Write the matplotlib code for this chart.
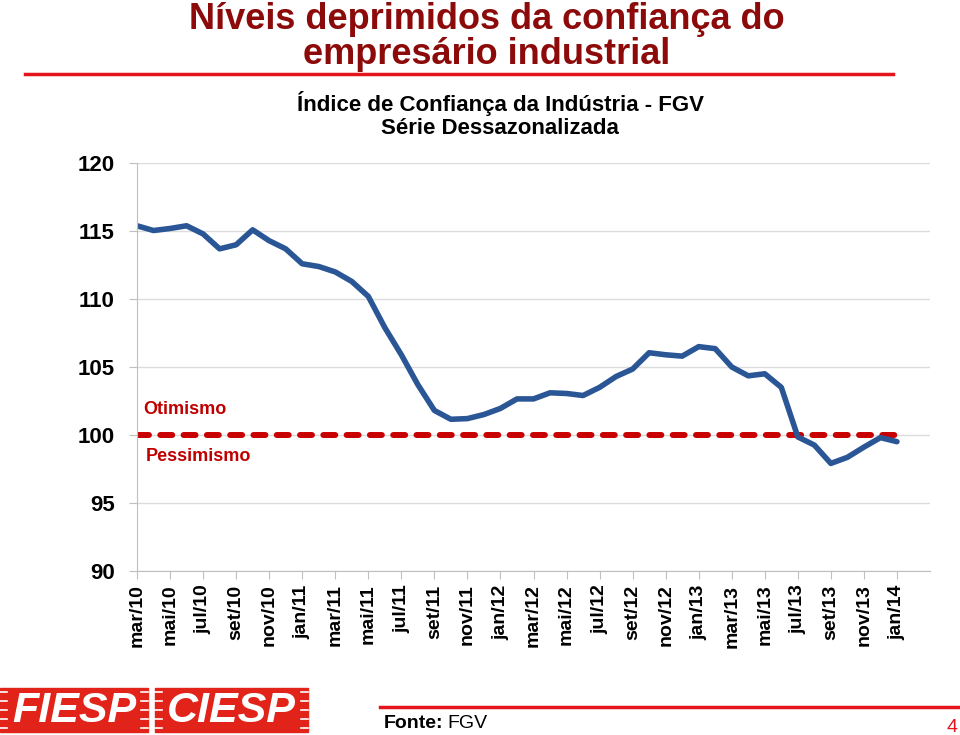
import numpy as np
import matplotlib
matplotlib.use('Agg')
import matplotlib.pyplot as plt
from matplotlib.patches import Rectangle
from matplotlib.lines import Line2D

# Índice de Confiança da Indústria (FGV), série dessazonalizada, mar/10 .. jan/14
ici = [115.4, 115.05, 115.2, 115.4, 114.8, 113.7, 114.0, 115.1, 114.3, 113.7,
       112.6, 112.4, 112.0, 111.3, 110.2, 107.9, 105.9, 103.7, 101.8, 101.15,
       101.2, 101.5, 101.95, 102.65, 102.65, 103.1, 103.05, 102.9, 103.5, 104.3,
       104.85, 106.05, 105.9, 105.8, 106.5, 106.35, 105.0, 104.35, 104.5, 103.5,
       99.85, 99.25, 97.9, 98.35, 99.1, 99.8, 99.5]
tick_labels = ['mar/10', 'mai/10', 'jul/10', 'set/10', 'nov/10', 'jan/11',
               'mar/11', 'mai/11', 'jul/11', 'set/11', 'nov/11', 'jan/12',
               'mar/12', 'mai/12', 'jul/12', 'set/12', 'nov/12', 'jan/13',
               'mar/13', 'mai/13', 'jul/13', 'set/13', 'nov/13', 'jan/14']
y_ticks = [90, 95, 100, 105, 110, 115, 120]
neutral = 100

title = 'Níveis deprimidos da confiança do\nempresário industrial'
subtitle = 'Índice de Confiança da Indústria - FGV\nSérie Dessazonalizada'

RED = '#E3141B'
DARKRED = '#8C0A0A'
BLUE = '#2A5696'

plt.rcParams['font.family'] = ['Liberation Sans', 'DejaVu Sans']

fig = plt.figure(figsize=(9.6, 7.35), dpi=100)
W, H = 960, 735

def fx(px):
    return px / W

def fy(py):
    return 1 - py / H

# slide header
fig.text(fx(487), fy(37), title, ha='center', va='center', color=DARKRED,
         fontsize=26, fontweight='bold', linespacing=0.98)
fig.add_artist(Line2D([fx(25), fx(893)], [fy(74), fy(74)], color=RED, lw=2.5))
fig.text(fx(500), fy(115), subtitle, ha='center', va='center', color='black',
         fontsize=16, fontweight='bold', linespacing=1.1)

# chart
x = np.arange(len(ici))
ax = fig.add_axes([fx(137), fy(570.7), fx(930 - 137), (570.7 - 163.3) / H])
ax.set_xlim(0, 48)
ax.set_ylim(y_ticks[0], y_ticks[-1])
ax.set_yticks(y_ticks)
ax.grid(axis='y', color='#DCDCDC', lw=1)
ax.set_axisbelow(True)
for s in ['top', 'right']:
    ax.spines[s].set_visible(False)
ax.spines['left'].set_color('#BFBFBF')
ax.spines['bottom'].set_color('#BFBFBF')

ax.plot([x[0], x[-1]], [neutral, neutral], color='#C80000', lw=4.3,
        dashes=(2.0, 1.9), dash_capstyle='round')
ax.plot(x, ici, color=BLUE, lw=4.0, solid_joinstyle='round',
        solid_capstyle='round')

ax.text(0.35, 101.9, 'Otimismo', color='#C00000', fontsize=13,
        fontweight='bold', va='center', ha='left')
ax.text(0.55, 98.4, 'Pessimismo', color='#C00000', fontsize=13,
        fontweight='bold', va='center', ha='left')

ax.set_xticks(x[::2])
ax.set_xticklabels(tick_labels, rotation=90, fontsize=14, fontweight='bold')
ax.tick_params(axis='x', length=6, color='#BFBFBF', pad=4)
ax.tick_params(axis='y', length=6, color='#BFBFBF', pad=10, labelsize=16)
for lab in ax.get_yticklabels():
    lab.set_fontweight('bold')

# footer: logos, source and page number
for x0, x1, name in [(0, 148, 'FIESP'), (155, 308, 'CIESP')]:
    fig.add_artist(Rectangle((fx(x0), fy(732)), fx(x1 - x0), (732 - 688) / H,
                             color='#E2231A', transform=fig.transFigure))
    for k in range(5):
        yy = fy(692 + k * 9)
        fig.add_artist(Line2D([fx(x0), fx(x0 + 7)], [yy, yy], color='white', lw=1.2))
        fig.add_artist(Line2D([fx(x1 - 7), fx(x1)], [yy, yy], color='white', lw=1.2))
    fig.text(fx((x0 + x1) / 2), fy(711), name, ha='center', va='center',
             color='white', fontsize=31, fontweight='bold', style='italic')
fig.add_artist(Line2D([fx(380), fx(958)], [fy(707), fy(707)], color=RED, lw=2.5))
fig.text(fx(384), fy(724), 'Fonte:', ha='left', va='center', fontsize=14,
         fontweight='bold')
fig.text(fx(447), fy(724), 'FGV', ha='left', va='center', fontsize=14)
fig.text(fx(952), fy(727), '4', ha='center', va='center', fontsize=14,
         color=RED)

fig.savefig('out.png', dpi=100)
